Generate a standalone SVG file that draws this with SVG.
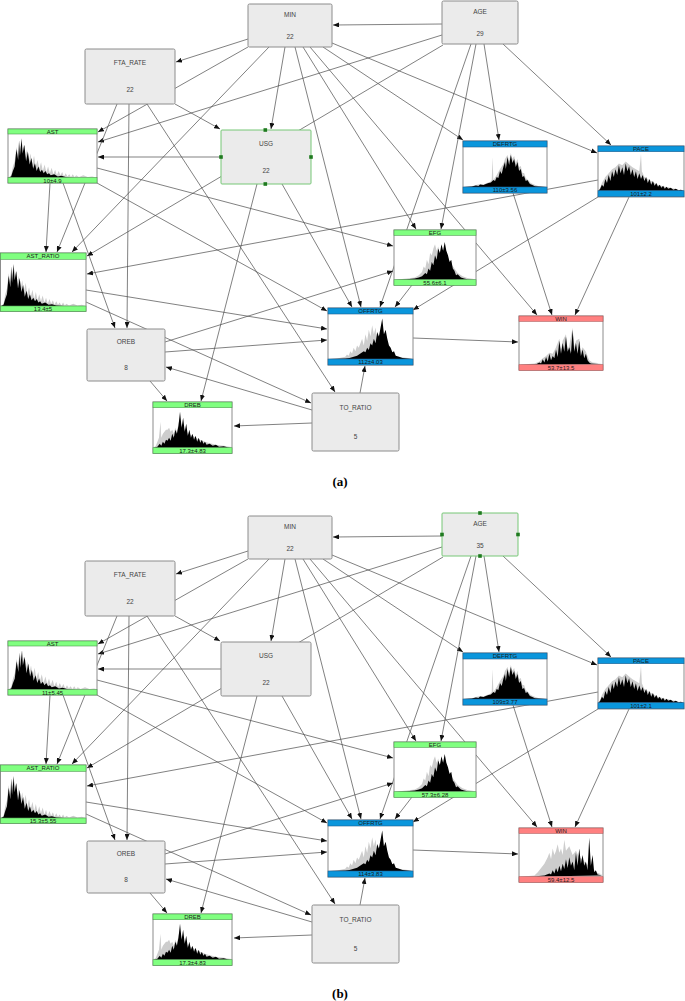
<svg xmlns="http://www.w3.org/2000/svg" xmlns:xlink="http://www.w3.org/1999/xlink" width="685" height="1001" viewBox="0 0 685 1001">
<style>
.n{fill:#ebebeb;stroke:#8c8c8c;stroke-width:1}
.sel{fill:#ebebeb;stroke:#77c777;stroke-width:1}
.hd{fill:#1f7a1f}
.t{font-family:"Liberation Sans",Arial,sans-serif;font-size:6.5px;fill:#444;text-anchor:middle}
.bt{font-family:"Liberation Sans",Arial,sans-serif;font-size:6px;fill:#1a1a1a;text-anchor:middle}
.hb{fill:#fff;stroke:#8c8c8c;stroke-width:1}
.g{fill:#80ff80;stroke:#4f9a4f;stroke-width:.6}
.b{fill:#0a96dc;stroke:#1f5f8f;stroke-width:.6}
.r{fill:#ff8080;stroke:#b05858;stroke-width:.6}
.hg{fill:#cdcdcd}
.hk{fill:#000}
.e line{stroke:#4a4a4a;stroke-width:.7;fill:none;marker-end:url(#ah)}
.cap{font-family:"Liberation Serif","Times New Roman",serif;font-weight:bold;font-size:13px;text-anchor:middle;fill:#000}
</style>
<defs>
<marker id="ah" markerWidth="6" markerHeight="5" refX="6" refY="2.5" orient="auto" markerUnits="userSpaceOnUse"><path d="M0,0L6,2.5L0,5z" fill="#111"/></marker>
<g id="h-skew">
<polygon class="hg" points="0,40 3,38 5,30 7,25 9,12 11,20 13,8 15,18 17,10 19,22 21,14 23,26 25,18 27,28 29,20 31,30 33,24 35,32 37,26 39,34 41,28 43,35 45,30 47,36 49,31 51,37 53,33 55,38 57,34 59,38 61,35 63,39 65,36 67,39 69,37 71,39.5 73,37 75,39.5 77,38 80,39.5 85,38 90,39.5 95,39 100,40"/>
<polygon class="hk" points="0,40 3,39 5,34 7,30 9,14 11,24 12,6 13,20 15,4 16,18 18,10 20,25 22,16 24,28 26,22 28,32 30,27 32,34 34,30 36,35 38,33 40,36 42,34 44,37 46,36 48,38 52,37 56,39 60,38.5 65,39.5 70,39.7 75,40"/>
</g>
<g id="h-def">
<polygon class="hg" points="0,40 10,39.2 15,38 20,37 24,37.5 28,36 32,35 34,33 35,10 36,33 40,28 44,22 48,17 50,12 53,8 55,14 57,6 59,12 61,9 63,16 65,12 67,20 69,19 71,26 73,26 75,31 78,33 81,36 85,37.5 90,39 100,40"/>
<polygon class="hk" points="0,40 10,39.5 15,38.5 18,39 20,37.5 24,38 27,37 30,36 33,35.5 36,33 38,34 40,30 42,31 44,24 46,27 48,20 50,15 51,22 53,10 55,18 57,8 59,16 61,12 63,20 65,15 67,24 69,22 71,30 73,29 75,34 77,33 80,37 83,38 86,39.3 90,39.6 100,40"/>
</g>
<g id="h-pace">
<polygon class="hg" points="0,40 2,37 4,32 8,26 12,22 16,18 20,16 24,12 28,14 32,10 36,13 40,16 44,18 48,20 50,2 51,20 54,26 58,28 62,30 66,32 70,34 74,35 78,36 82,36.5 86,37.5 90,38 94,39 100,39.5"/>
<polygon class="hk" points="0,40 2,38 4,34 6,36 8,28 10,32 12,24 14,30 16,20 18,26 20,18 22,24 24,14 26,22 28,16 30,24 32,12 34,20 36,15 38,24 40,18 42,26 44,20 46,28 48,22 50,28 52,24 54,30 56,26 58,32 60,28 62,34 64,30 66,35 68,32 70,36 72,34 74,37 76,35 78,38 80,36 82,38 85,37 88,39 91,38 94,39.5 97,39 100,40"/>
</g>
<g id="h-efg">
<polygon class="hg" points="0,40 15,39 25,38 30,36 34,33 36,28 38,30 40,22 42,26 44,16 46,18 48,12 50,8 52,14 54,10 56,18 60,14 66,20 70,26 74,30 78,34 84,37 90,38.5 100,39.5"/>
<polygon class="hk" points="0,40 15,39.5 25,39 30,38 34,37 38,34 40,35 42,30 44,32 46,24 48,27 50,18 52,22 54,12 56,16 58,8 60,14 62,6 64,14 66,18 68,24 70,22 72,30 74,32 76,36 78,35 82,38 86,39 90,39.5 100,39.8"/>
</g>
<g id="h-off">
<polygon class="hg" points="0,40 10,39.5 20,38 22,36 24,37 26,33 28,35 30,30 32,33 34,28 36,30 38,26 40,22 42,28 44,18 46,24 48,14 50,20 52,10 54,18 56,12 58,24 60,22 62,18 64,26 66,22 70,28 74,32 78,36 82,38 100,39.5"/>
<polygon class="hk" points="0,40 10,39.7 20,39.5 25,39 30,38 34,37 38,35 42,33 44,34 46,30 48,32 50,26 52,28 54,22 56,26 58,16 60,20 62,12 64,4 66,18 68,14 70,22 72,28 74,30 76,34 78,33 80,37 84,38 88,39 100,40"/>
</g>
<g id="h-win">
<polygon class="hg" points="0,40 18,39 24,37 28,34 32,32 36,29 40,30 44,24 48,16 50,26 52,18 56,12 58,26 60,22 64,6 66,24 68,18 72,16 74,28 76,24 80,28 84,36 88,38 100,39"/>
<polygon class="hk" points="0,40 20,39.5 24,38 26,39 28,35 30,38 32,33 34,37 36,30 38,36 40,32 42,34 44,26 46,33 48,18 50,30 52,20 54,28 56,14 58,28 60,24 62,30 64,8 66,28 68,20 70,30 72,18 74,32 76,26 78,34 80,30 82,36 84,38 86,39 100,39.5"/>
</g>
<g id="h-win2">
<polygon class="hg" points="0,40 18,39 22,36 26,32 30,28 34,22 36,18 38,24 40,14 42,20 44,16 46,10 48,18 50,14 52,20 54,6 56,16 60,12 64,20 68,16 72,22 76,24 80,28 84,30 88,32 92,36 96,37 100,38"/>
<polygon class="hk" points="0,40 20,39.5 30,39 36,37 38,38 40,34 42,37 44,32 46,36 48,30 50,35 52,28 54,33 56,24 58,32 60,22 62,30 64,26 66,34 68,18 70,30 72,14 74,28 76,20 78,30 80,26 82,34 84,4 86,30 88,20 90,36 92,34 94,38 100,39"/>
</g>
<g id="h-dreb">
<polygon class="hg" points="0,40 3,38 5,34 7,30 9,14 10,30 12,26 14,24 16,22 18,22 20,20 22,24 24,22 26,26 28,20 30,24 32,16 34,10 36,18 40,22 44,26 50,28 56,31 62,33 70,35 80,37 100,39"/>
<polygon class="hk" points="0,40 5,39 8,36 10,38 12,34 14,36 16,32 18,33 20,30 22,33 24,26 26,30 28,22 30,26 32,18 34,4 36,20 38,10 40,24 42,16 44,28 46,22 48,30 50,26 52,32 54,28 56,34 58,30 60,35 62,32 64,36 66,34 68,37 72,36 76,38 80,37 84,39 90,38.5 95,39.5 100,40"/>
</g>
</defs>
<rect x="0" y="0" width="685" height="1001" fill="#fff"/>

<!-- ================= PANEL A ================= -->
<g id="panel-a">
<g id="connectors-a" class="e">
<line x1="442" y1="24" x2="333" y2="25"/>
<line x1="248" y1="39" x2="176" y2="62"/>
<line x1="285" y1="47" x2="271" y2="129"/>
<line x1="248" y1="47" x2="98" y2="132"/>
<line x1="269" y1="47" x2="72" y2="252"/>
<line x1="295" y1="47" x2="361" y2="307"/>
<line x1="303" y1="47" x2="416" y2="229"/>
<line x1="310" y1="47" x2="537" y2="315"/>
<line x1="323" y1="47" x2="463" y2="140"/>
<line x1="332" y1="43" x2="597" y2="153"/>
<line x1="442" y1="35" x2="98" y2="142"/>
<line x1="443" y1="45" x2="87" y2="256"/>
<line x1="471" y1="44" x2="380" y2="307"/>
<line x1="476" y1="44" x2="441" y2="229"/>
<line x1="484" y1="44" x2="499" y2="140"/>
<line x1="503" y1="44" x2="611" y2="145"/>
<line x1="175" y1="104" x2="220" y2="129"/>
<line x1="129" y1="104" x2="127" y2="328"/>
<line x1="117" y1="104" x2="57" y2="252"/>
<line x1="147" y1="104" x2="335" y2="392"/>
<line x1="221" y1="157" x2="98" y2="157"/>
<line x1="257" y1="184" x2="201" y2="401"/>
<line x1="282" y1="184" x2="352" y2="307"/>
<line x1="50" y1="183" x2="46" y2="252"/>
<line x1="63" y1="183" x2="115" y2="328"/>
<line x1="97" y1="168" x2="393" y2="246"/>
<line x1="97" y1="183" x2="327" y2="311"/>
<line x1="86" y1="290" x2="327" y2="329"/>
<line x1="86" y1="302" x2="311" y2="403"/>
<line x1="165" y1="342" x2="393" y2="271"/>
<line x1="165" y1="352" x2="327" y2="340"/>
<line x1="150" y1="381" x2="167" y2="401"/>
<line x1="312" y1="410" x2="166" y2="367"/>
<line x1="312" y1="423" x2="234" y2="426"/>
<line x1="360" y1="393" x2="365" y2="366"/>
<line x1="412" y1="285" x2="395" y2="307"/>
<line x1="598" y1="197" x2="413" y2="310"/>
<line x1="598" y1="180" x2="87" y2="274"/>
<line x1="629" y1="197" x2="575" y2="315"/>
<line x1="513" y1="193" x2="552" y2="315"/>
<line x1="413" y1="338" x2="518" y2="342"/>
</g>

<g id="a-MIN"><rect class="n" x="248" y="4" width="84" height="43" rx="1.5"/><text class="t" x="290" y="17">MIN</text><text class="t" x="290" y="39">22</text></g>
<g id="a-AGE"><rect class="n" x="442" y="1" width="76" height="43" rx="1.5"/><text class="t" x="480" y="14">AGE</text><text class="t" x="480" y="36">29</text></g>
<g id="a-FTA_RATE"><rect class="n" x="85" y="49" width="90" height="55" rx="1.5"/><text class="t" x="130" y="65">FTA_RATE</text><text class="t" x="130" y="92">22</text></g>
<g id="a-USG"><rect class="sel" x="221" y="130" width="90" height="54" rx="1"/><text class="t" x="266" y="146">USG</text><text class="t" x="266" y="173">22</text>
<rect class="hd" x="263.5" y="128.2" width="3.6" height="3.6"/><rect class="hd" x="219.2" y="155.2" width="3.6" height="3.6"/><rect class="hd" x="309.2" y="155.2" width="3.6" height="3.6"/><rect class="hd" x="263.5" y="182.2" width="3.6" height="3.6"/></g>
<g id="a-OREB"><rect class="n" x="87" y="329" width="78" height="52" rx="1.5"/><text class="t" x="126" y="344">OREB</text><text class="t" x="126" y="370">8</text></g>
<g id="a-TO_RATIO"><rect class="n" x="312" y="393" width="87" height="58" rx="1.5"/><text class="t" x="355.5" y="410">TO_RATIO</text><text class="t" x="355.5" y="439">5</text></g>

<g id="a-AST"><rect class="hb" x="8" y="129" width="89" height="54"/><use xlink:href="#h-skew" transform="translate(8.5,134) scale(0.88,1.087)"/>
<rect class="g" x="8" y="129" width="89" height="5"/><rect class="g" x="8" y="177.5" width="89" height="5.5"/><text class="bt" x="52.5" y="133.5">AST</text><text class="bt" x="52.5" y="182.5">10±4.9</text></g>
<g id="a-DEFRTG"><rect class="hb" x="463" y="141" width="84" height="52"/><use xlink:href="#h-def" transform="translate(463.5,147) scale(0.83,1)"/>
<rect class="b" x="463" y="141" width="84" height="6"/><rect class="b" x="463" y="187" width="84" height="6"/><text class="bt" x="505" y="146.2">DEFRTG</text><text class="bt" x="505" y="192.2">110±3.56</text></g>
<g id="a-PACE"><rect class="hb" x="598" y="146" width="86" height="51"/><use xlink:href="#h-pace" transform="translate(598.5,151.7) scale(0.85,0.975)"/>
<rect class="b" x="598" y="146" width="86" height="5.7"/><rect class="b" x="598" y="190.7" width="86" height="6"/><text class="bt" x="641" y="151">PACE</text><text class="bt" x="641" y="196">101±2.2</text></g>
<g id="a-EFG"><rect class="hb" x="394" y="230" width="82" height="55"/><use xlink:href="#h-efg" transform="translate(394.5,235.3) scale(0.81,1.11)"/>
<rect class="g" x="394" y="230" width="82" height="5.3"/><rect class="g" x="394" y="279.7" width="82" height="5.6"/><text class="bt" x="435" y="234.8">EFG</text><text class="bt" x="435" y="284.7">55.6±6.1</text></g>
<g id="a-OFFRTG"><rect class="hb" x="328" y="308" width="85" height="57"/><use xlink:href="#h-off" transform="translate(328.5,314) scale(0.84,1.125)"/>
<rect class="b" x="328" y="308" width="85" height="6"/><rect class="b" x="328" y="359" width="85" height="6"/><text class="bt" x="370.5" y="313.3">OFFRTG</text><text class="bt" x="370.5" y="364.3">112±4.03</text></g>
<g id="a-WIN"><rect class="hb" x="519" y="316" width="84" height="54"/><use xlink:href="#h-win" transform="translate(519.5,321.3) scale(0.83,1.085)"/>
<rect class="r" x="519" y="316" width="84" height="5.3"/><rect class="r" x="519" y="364.7" width="84" height="5.6"/><text class="bt" x="561" y="320.8">WIN</text><text class="bt" x="561" y="369.7">53.7±13.5</text></g>
<g id="a-AST_RATIO"><rect class="hb" x="0.5" y="253" width="85.5" height="58.3"/><use xlink:href="#h-skew" transform="translate(1,259.3) scale(0.85,1.167)"/>
<rect class="g" x="0.5" y="253" width="85.5" height="6.3"/><rect class="g" x="0.5" y="306" width="85.5" height="5.3"/><text class="bt" x="43" y="258.4">AST_RATIO</text><text class="bt" x="43" y="310.8">13.4±5</text></g>
<g id="a-DREB"><rect class="hb" x="153" y="402" width="79" height="51.3"/><use xlink:href="#h-dreb" transform="translate(153.5,407.7) scale(0.78,1)"/>
<rect class="g" x="153" y="402" width="79" height="5.7"/><rect class="g" x="153" y="447.7" width="79" height="5.6"/><text class="bt" x="192.5" y="407">DREB</text><text class="bt" x="192.5" y="452.7">17.3±4.83</text></g>
<text id="cap-a" class="cap" x="340" y="486">(a)</text>
</g>

<!-- ================= PANEL B ================= -->
<g id="panel-b" transform="translate(0,512)">
<g id="connectors-b" class="e">
<line x1="442" y1="24" x2="333" y2="25"/>
<line x1="248" y1="39" x2="176" y2="62"/>
<line x1="285" y1="47" x2="271" y2="129"/>
<line x1="248" y1="47" x2="98" y2="132"/>
<line x1="269" y1="47" x2="72" y2="252"/>
<line x1="295" y1="47" x2="361" y2="307"/>
<line x1="303" y1="47" x2="416" y2="229"/>
<line x1="310" y1="47" x2="537" y2="315"/>
<line x1="323" y1="47" x2="463" y2="140"/>
<line x1="332" y1="43" x2="597" y2="153"/>
<line x1="442" y1="35" x2="98" y2="142"/>
<line x1="443" y1="45" x2="87" y2="256"/>
<line x1="471" y1="44" x2="380" y2="307"/>
<line x1="476" y1="44" x2="441" y2="229"/>
<line x1="484" y1="44" x2="499" y2="140"/>
<line x1="503" y1="44" x2="611" y2="145"/>
<line x1="175" y1="104" x2="220" y2="129"/>
<line x1="129" y1="104" x2="127" y2="328"/>
<line x1="117" y1="104" x2="57" y2="252"/>
<line x1="147" y1="104" x2="335" y2="392"/>
<line x1="221" y1="157" x2="98" y2="157"/>
<line x1="257" y1="184" x2="201" y2="401"/>
<line x1="282" y1="184" x2="352" y2="307"/>
<line x1="50" y1="183" x2="46" y2="252"/>
<line x1="63" y1="183" x2="115" y2="328"/>
<line x1="97" y1="168" x2="393" y2="246"/>
<line x1="97" y1="183" x2="327" y2="311"/>
<line x1="86" y1="290" x2="327" y2="329"/>
<line x1="86" y1="302" x2="311" y2="403"/>
<line x1="165" y1="342" x2="393" y2="271"/>
<line x1="165" y1="352" x2="327" y2="340"/>
<line x1="150" y1="381" x2="167" y2="401"/>
<line x1="312" y1="410" x2="166" y2="367"/>
<line x1="312" y1="423" x2="234" y2="426"/>
<line x1="360" y1="393" x2="365" y2="366"/>
<line x1="412" y1="285" x2="395" y2="307"/>
<line x1="598" y1="197" x2="413" y2="310"/>
<line x1="598" y1="180" x2="87" y2="274"/>
<line x1="629" y1="197" x2="575" y2="315"/>
<line x1="513" y1="193" x2="552" y2="315"/>
<line x1="413" y1="338" x2="518" y2="342"/>
</g>

<g id="b-MIN"><rect class="n" x="248" y="4" width="84" height="43" rx="1.5"/><text class="t" x="290" y="17">MIN</text><text class="t" x="290" y="39">22</text></g>
<g id="b-AGE"><rect class="sel" x="442" y="1" width="76" height="43" rx="1"/><text class="t" x="480" y="14">AGE</text><text class="t" x="480" y="36">35</text>
<rect class="hd" x="478.2" y="-0.8" width="3.6" height="3.6"/><rect class="hd" x="440.2" y="20.7" width="3.6" height="3.6"/><rect class="hd" x="516.2" y="20.7" width="3.6" height="3.6"/><rect class="hd" x="478.2" y="42.2" width="3.6" height="3.6"/></g>
<g id="b-FTA_RATE"><rect class="n" x="85" y="49" width="90" height="55" rx="1.5"/><text class="t" x="130" y="65">FTA_RATE</text><text class="t" x="130" y="92">22</text></g>
<g id="b-USG"><rect class="n" x="221" y="130" width="90" height="54" rx="1.5"/><text class="t" x="266" y="146">USG</text><text class="t" x="266" y="173">22</text></g>
<g id="b-OREB"><rect class="n" x="87" y="329" width="78" height="52" rx="1.5"/><text class="t" x="126" y="344">OREB</text><text class="t" x="126" y="370">8</text></g>
<g id="b-TO_RATIO"><rect class="n" x="312" y="393" width="87" height="58" rx="1.5"/><text class="t" x="355.5" y="410">TO_RATIO</text><text class="t" x="355.5" y="439">5</text></g>

<g id="b-AST"><rect class="hb" x="8" y="129" width="89" height="54"/><use xlink:href="#h-skew" transform="translate(8.5,134) scale(0.9,1.087)"/>
<rect class="g" x="8" y="129" width="89" height="5"/><rect class="g" x="8" y="177.5" width="89" height="5.5"/><text class="bt" x="52.5" y="133.5">AST</text><text class="bt" x="52.5" y="182.5">11±5.45</text></g>
<g id="b-DEFRTG"><rect class="hb" x="463" y="141" width="84" height="52"/><use xlink:href="#h-def" transform="translate(463.5,147) scale(0.83,1)"/>
<rect class="b" x="463" y="141" width="84" height="6"/><rect class="b" x="463" y="187" width="84" height="6"/><text class="bt" x="505" y="146.2">DEFRTG</text><text class="bt" x="505" y="192.2">109±3.77</text></g>
<g id="b-PACE"><rect class="hb" x="598" y="146" width="86" height="51"/><use xlink:href="#h-pace" transform="translate(598.5,151.7) scale(0.85,0.975)"/>
<rect class="b" x="598" y="146" width="86" height="5.7"/><rect class="b" x="598" y="190.7" width="86" height="6"/><text class="bt" x="641" y="151">PACE</text><text class="bt" x="641" y="196">101±2.1</text></g>
<g id="b-EFG"><rect class="hb" x="394" y="230" width="82" height="55"/><use xlink:href="#h-efg" transform="translate(394.5,235.3) scale(0.81,1.11)"/>
<rect class="g" x="394" y="230" width="82" height="5.3"/><rect class="g" x="394" y="279.7" width="82" height="5.6"/><text class="bt" x="435" y="234.8">EFG</text><text class="bt" x="435" y="284.7">57.3±6.28</text></g>
<g id="b-OFFRTG"><rect class="hb" x="328" y="308" width="85" height="57"/><use xlink:href="#h-off" transform="translate(328.5,314) scale(0.84,1.125)"/>
<rect class="b" x="328" y="308" width="85" height="6"/><rect class="b" x="328" y="359" width="85" height="6"/><text class="bt" x="370.5" y="313.3">OFFRTG</text><text class="bt" x="370.5" y="364.3">114±3.83</text></g>
<g id="b-WIN"><rect class="hb" x="519" y="316" width="84" height="54"/><use xlink:href="#h-win2" transform="translate(519.5,321.3) scale(0.83,1.085)"/>
<rect class="r" x="519" y="316" width="84" height="5.3"/><rect class="r" x="519" y="364.7" width="84" height="5.6"/><text class="bt" x="561" y="320.8">WIN</text><text class="bt" x="561" y="369.7">59.4±12.5</text></g>
<g id="b-AST_RATIO"><rect class="hb" x="0.5" y="253" width="85.5" height="58.3"/><use xlink:href="#h-skew" transform="translate(1,259.3) scale(0.85,1.167)"/>
<rect class="g" x="0.5" y="253" width="85.5" height="6.3"/><rect class="g" x="0.5" y="306" width="85.5" height="5.3"/><text class="bt" x="43" y="258.4">AST_RATIO</text><text class="bt" x="43" y="310.8">15.3±5.55</text></g>
<g id="b-DREB"><rect class="hb" x="153" y="402" width="79" height="51.3"/><use xlink:href="#h-dreb" transform="translate(153.5,407.7) scale(0.78,1)"/>
<rect class="g" x="153" y="402" width="79" height="5.7"/><rect class="g" x="153" y="447.7" width="79" height="5.6"/><text class="bt" x="192.5" y="407">DREB</text><text class="bt" x="192.5" y="452.7">17.3±4.83</text></g>
<text id="cap-b" class="cap" x="340" y="486">(b)</text>
</g>
</svg>
